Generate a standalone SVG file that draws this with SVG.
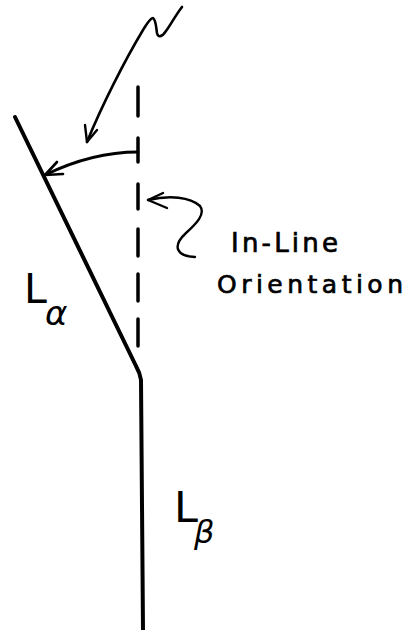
<svg xmlns="http://www.w3.org/2000/svg" width="418" height="630" viewBox="0 0 418 630">
<style>
.ln{fill:none;stroke:#000;stroke-linecap:round;stroke-linejoin:round}
.lbl{font-family:"DejaVu Sans","Liberation Sans",sans-serif;fill:#000}
.cap{stroke:#000;stroke-width:0.7}
</style>
<rect width="418" height="630" fill="#fff"/>
<g id="line-alpha">
<path class="ln" stroke-width="4" d="M15,117 L136,366 Q140,373 141,380 L143,630"/>
</g>
<g id="in-line-orientation">
<path class="ln" stroke-width="3.5" d="M138,87 V116 M138,138 V162 M138,184 V209 M138,229 V256 M138,274 V301 M138,319 V346"/>
</g>
<g id="connectors">
<path class="ln" stroke-width="2.6" d="M182,7 C175,16 170,26 166,31 C162,37 158,38 157,33 C156,27 156,20 153,18 C150,18 147,24 143,30 C125,60 102,105 87,142"/>
<path class="ln" stroke-width="2.4" d="M85,125 L87,142 L97,130"/>
<path class="ln" stroke-width="2.8" d="M138,152 Q92,152 45,175"/>
<path class="ln" stroke-width="2.6" d="M57,162 L45,175 L63,174"/>
<path class="ln" stroke-width="2.4" d="M148,200 C170,195 190,197 200,206 C206,214 196,224 186,233 C172,246 176,256 195,257"/>
<path class="ln" stroke-width="2.4" d="M163,193 L148,200 L167,208"/>
</g>
<g id="labels">
<text class="lbl cap" x="231" y="252" font-size="26" textLength="107" lengthAdjust="spacing">In-Line</text>
<text class="lbl cap" x="217" y="293" font-size="25" textLength="186" lengthAdjust="spacing">Orientation</text>
<text class="lbl" x="24" y="303" font-size="41">L</text>
<text class="lbl" x="45" y="325" font-size="34" font-style="italic">α</text>
<text class="lbl" x="174" y="522" font-size="43">L</text>
<text class="lbl" x="194" y="543" font-size="32" font-style="italic">β</text>
</g>
</svg>
